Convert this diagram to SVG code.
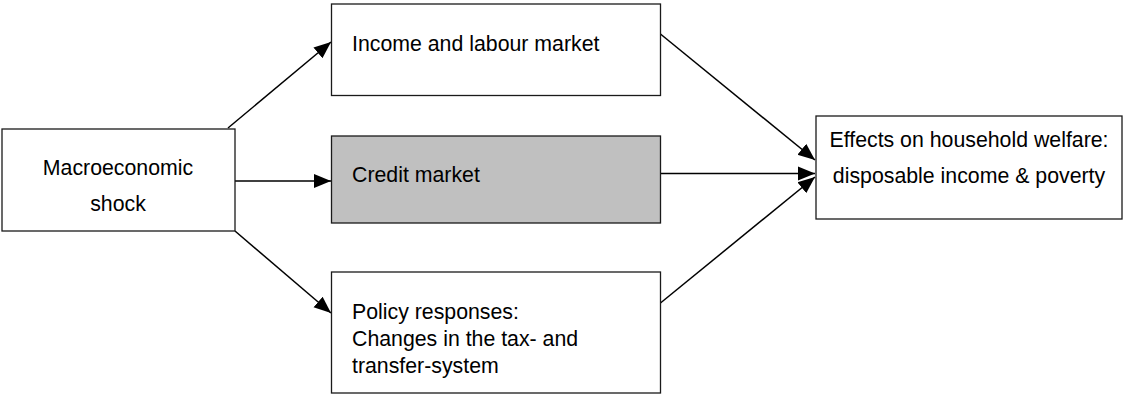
<svg xmlns="http://www.w3.org/2000/svg" width="1123" height="394" viewBox="0 0 1123 394">
<style>
.box{fill:#fff;stroke:#1a1a1a;stroke-width:1.3}
.grey{fill:#c0c0c0}
.t{font-family:"Liberation Sans",Arial,sans-serif;font-size:21.3px;fill:#000}
.c{text-anchor:middle}
.ln{stroke:#000;stroke-width:1.5;fill:none}
</style>
<defs>
<marker id="ah" markerUnits="userSpaceOnUse" markerWidth="18" markerHeight="16" refX="17" refY="8" orient="auto">
<path d="M0,1 L17,8 L0,15 Z" fill="#000"/>
</marker>
</defs>
<rect width="1123" height="394" fill="#fff"/>
<g id="connectors">
<line class="ln" x1="228" y1="128" x2="331" y2="42" marker-end="url(#ah)"/>
<line class="ln" x1="235" y1="181" x2="331" y2="181" marker-end="url(#ah)"/>
<line class="ln" x1="235" y1="231" x2="331" y2="313" marker-end="url(#ah)"/>
<line class="ln" x1="658" y1="32" x2="815" y2="160" marker-end="url(#ah)"/>
<line class="ln" x1="660" y1="173.5" x2="815" y2="173.5" marker-end="url(#ah)"/>
<line class="ln" x1="658" y1="305" x2="815" y2="177" marker-end="url(#ah)"/>
</g>
<g id="macro">
<rect class="box" x="2" y="129" width="233" height="102"/>
<text class="t c" x="118" y="175">Macroeconomic</text>
<text class="t c" x="118" y="211">shock</text>
</g>
<g id="income">
<rect class="box" x="331.5" y="4" width="329" height="91.5"/>
<text class="t" x="352" y="51">Income and labour market</text>
</g>
<g id="credit">
<rect class="box grey" x="331.5" y="136" width="329" height="87"/>
<text class="t" x="352" y="182">Credit market</text>
</g>
<g id="policy">
<rect class="box" x="331.5" y="272" width="329" height="121"/>
<text class="t" x="352" y="318.5">Policy responses:</text>
<text class="t" x="352" y="346">Changes in the tax- and</text>
<text class="t" x="352" y="373">transfer-system</text>
</g>
<g id="effects">
<rect class="box" x="816" y="116" width="306" height="103"/>
<text class="t c" x="969" y="147">Effects on household welfare:</text>
<text class="t c" x="969" y="183">disposable income &amp; poverty</text>
</g>
</svg>
